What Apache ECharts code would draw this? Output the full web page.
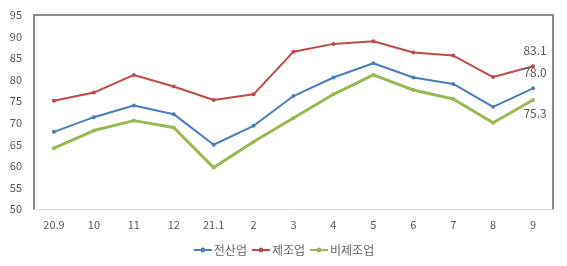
<!DOCTYPE html>
<html>
<head>
<meta charset="utf-8">
<script src="https://cdn.jsdelivr.net/npm/echarts@6/dist/echarts.min.js"></script>
<style>html,body{margin:0;padding:0;background:#fff;}#c{width:567px;height:266px;}</style>
</head>
<body>
<div id="c"></div>
<script>
var categories = ['20.9','10','11','12','21.1','2','3','4','5','6','7','8','9'];
var allIndustry = [67.9, 71.3, 74.0, 72.0, 64.9, 69.3, 76.2, 80.5, 83.8, 80.5, 79.0, 73.7, 78.0];
var manufacturing = [75.1, 77.0, 81.1, 78.4, 75.3, 76.6, 86.5, 88.3, 88.9, 86.3, 85.6, 80.6, 83.1];
var nonManufacturing = [64.1, 68.2, 70.5, 68.9, 59.6, 65.6, 71.1, 76.6, 81.1, 77.6, 75.5, 70.0, 75.3];
var seriesNames = ['전산업', '제조업', '비제조업'];
var yTicks = [50, 95, 5];

var font = '"Noto Sans CJK KR", "Noto Sans", sans-serif';
var chart = echarts.init(document.getElementById('c'));

function lastLabel(arr, pos, dist) {
  return arr.map(function (v, i) {
    if (i === arr.length - 1) {
      return { value: v, label: { show: true, position: pos, distance: dist, offset: [2, 0], formatter: function (p) { return p.value.toFixed(1); },
        color: '#595959', fontSize: 12, fontFamily: font } };
    }
    return v;
  });
}

chart.setOption({
  animation: false,
  grid: { left: 34, right: 14, top: 15, bottom: 57 },
  legend: {
    bottom: 5, left: 'center',
    itemWidth: 18, itemHeight: 6, itemGap: 4,
    textStyle: { color: '#666', fontSize: 12, fontFamily: font, padding: [0, 0, 0, -3] },
    data: seriesNames
  },
  xAxis: [{
    type: 'category', data: categories, boundaryGap: true,
    axisLine: { lineStyle: { color: '#d9d9d9', width: 1 } },
    axisTick: { show: false },
    axisLabel: { color: '#595959', fontSize: 11, fontFamily: font, margin: 10 }
  }, {
    type: 'category', data: categories, position: 'top',
    axisLine: { show: true, lineStyle: { color: '#8c8c8c', width: 2 } },
    axisTick: { show: false }, axisLabel: { show: false }
  }],
  yAxis: [{
    type: 'value', min: yTicks[0], max: yTicks[1], interval: yTicks[2],
    axisLine: { show: true, lineStyle: { color: '#8c8c8c', width: 2 } },
    axisTick: { show: false },
    splitLine: { show: false },
    axisLabel: { color: '#595959', fontSize: 11, fontFamily: font, margin: 12 }
  }, {
    type: 'value', min: yTicks[0], max: yTicks[1], interval: yTicks[2], position: 'right',
    axisLine: { show: true, lineStyle: { color: '#8c8c8c', width: 2 } },
    axisTick: { show: false }, splitLine: { show: false }, axisLabel: { show: false }
  }],
  series: [{
    name: seriesNames[0], type: 'line', data: lastLabel(allIndustry, 'top', 8),
    symbol: 'circle', symbolSize: 4, color: '#4a7ebb',
    lineStyle: { width: 2 }
  }, {
    name: seriesNames[1], type: 'line', data: lastLabel(manufacturing, 'top', 8),
    symbol: 'circle', symbolSize: 4, color: '#be4b48',
    lineStyle: { width: 2 }
  }, {
    name: seriesNames[2], type: 'line', data: lastLabel(nonManufacturing, 'bottom', 6),
    symbol: 'circle', symbolSize: 4, color: '#98b954',
    lineStyle: { width: 3 }
  }]
});
</script>
</body>
</html>
